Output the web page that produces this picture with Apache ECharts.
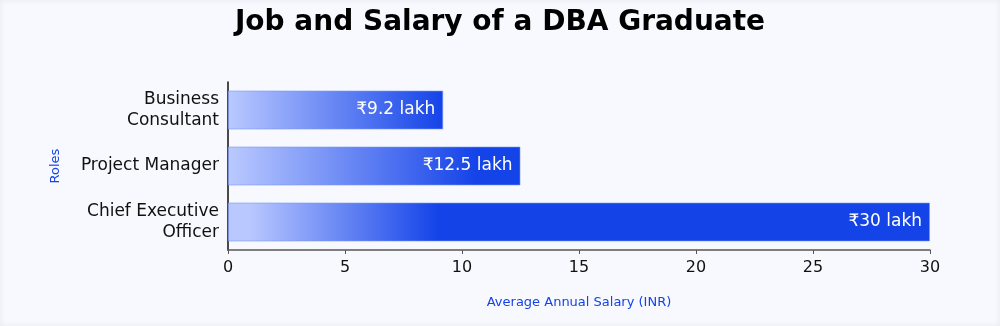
<!DOCTYPE html>
<html>
<head>
<meta charset="utf-8">
<script src="https://cdn.jsdelivr.net/npm/echarts@6/dist/echarts.min.js"></script>
<style>
html,body{margin:0;padding:0;background:#f8f9fe;}
#wrap{position:relative;width:1000px;height:326px;box-shadow:inset 0 0 6px rgba(0,0,0,0.07);}
#chart{width:1000px;height:326px;}
</style>
</head>
<body>
<div id="wrap"><div id="chart"></div></div>
<script>
const titleText = "Job and Salary of a DBA Graduate";
const categories = ["Chief Executive\nOfficer", "Project Manager", "Business\nConsultant"];
const salaries = [30, 12.5, 9.2];
const xTicks = [0, 5, 10, 15, 20, 25, 30];
const xAxisName = "Average Annual Salary (INR)";
const yAxisName = "Roles";

const FONT = '"DejaVu Sans", "Noto Sans", sans-serif';
const LIGHT = '#b9c8ff', DARK = '#1443e8';
const gradEnds = [0.3, 0.85, 1.0];

function grad(end) {
  return new echarts.graphic.LinearGradient(0, 0, 1, 0, [
    {offset: 0, color: LIGHT},
    {offset: Math.min(0.03 / end * 0.3, 0.05), color: LIGHT},
    {offset: end, color: DARK},
    {offset: 1, color: DARK}
  ]);
}

const chart = echarts.init(document.getElementById('chart'), null, {renderer: 'canvas'});
chart.setOption({
  backgroundColor: 'transparent',
  textStyle: {fontFamily: FONT},
  title: {
    text: titleText, left: 'center', top: 4,
    textStyle: {fontFamily: FONT, fontSize: 28, fontWeight: 'bold', color: '#000'}
  },
  grid: {left: 228, right: 70, top: 82, bottom: 76, containLabel: false},
  xAxis: {
    type: 'value', min: xTicks[0], max: xTicks[xTicks.length - 1], interval: 5,
    name: xAxisName, nameLocation: 'middle', nameGap: 46,
    nameTextStyle: {color: '#1443e8', fontSize: 13, fontFamily: FONT},
    axisLine: {show: true, lineStyle: {color: '#555', width: 1.5}},
    axisTick: {show: true, length: 4, lineStyle: {color: '#555'}},
    axisLabel: {color: '#111', fontSize: 16, margin: 10, fontFamily: FONT},
    splitLine: {show: false}
  },
  yAxis: {
    type: 'category', data: categories,
    name: yAxisName, nameLocation: 'middle', nameGap: 166, nameRotate: 90,
    nameTextStyle: {color: '#1443e8', fontSize: 13, fontFamily: FONT},
    axisLine: {show: true, lineStyle: {color: '#111', width: 1.5}},
    axisTick: {show: false},
    axisLabel: {color: '#111', fontSize: 17, margin: 9, lineHeight: 21, align: 'right', fontFamily: FONT}
  },
  series: [{
    type: 'bar',
    data: salaries.map((v, i) => ({value: v, itemStyle: {color: grad(gradEnds[i])}})),
    barWidth: 39,
    itemStyle: {borderColor: 'rgba(120,150,245,0.6)', borderWidth: 1},
    label: {
      show: true, position: 'insideRight', distance: 8,
      formatter: p => '\u20B9' + p.value + ' lakh',
      color: '#fff', fontSize: 17, fontFamily: FONT
    },
    animation: false
  }],
  animation: false
});
</script>
</body>
</html>
